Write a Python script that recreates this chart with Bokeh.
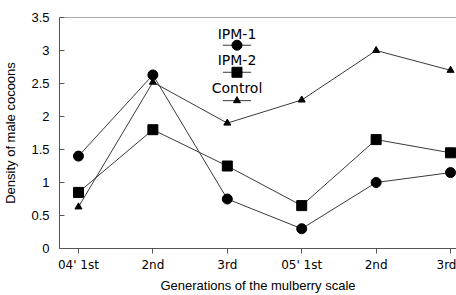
from bokeh.plotting import figure
from bokeh.models import FixedTicker, NumeralTickFormatter, Span
from bokeh.core.properties import value
from bokeh.embed import file_html
from bokeh.resources import INLINE

generations = ["04' 1st", "2nd", "3rd", "05' 1st", "2nd", "3rd"]
ipm1 = [1.4, 2.63, 0.75, 0.3, 1.0, 1.15]
ipm2 = [0.85, 1.8, 1.25, 0.65, 1.65, 1.45]
control = [0.63, 2.52, 1.9, 2.25, 3.0, 2.7]
y_ticks = [0, 0.5, 1, 1.5, 2, 2.5, 3, 3.5]

xs = list(range(len(generations)))

p = figure(width=456, height=295, output_backend="svg", toolbar_location=None,
           x_range=(-0.255, 5.08), y_range=(0, 3.5),
           min_border_left=58, min_border_right=0, min_border_top=17, min_border_bottom=47)
p.background_fill_color = "white"
p.border_fill_color = "white"
p.outline_line_color = None
p.xgrid.visible = False
p.ygrid.visible = False

line_col = "#3a3a3a"
p.line(xs, ipm1, line_color=line_col, line_width=1)
p.line(xs, ipm2, line_color=line_col, line_width=1)
p.line(xs, control, line_color=line_col, line_width=1)
p.scatter(xs, ipm1, marker="circle", size=10, color="black")
p.scatter(xs, ipm2, marker="square", size=10, color="black")
p.scatter(xs, control, marker="triangle", size=7, color="black")

# top border line
p.add_layout(Span(location=3.5, dimension="width", line_color="#555555", line_width=1))

# legend (text above a short line with marker)
lx = 2.13
names = ["IPM-1", "IPM-2", "Control"]
markers = ["circle", "square", "triangle"]
msizes = [10, 10, 7]
text_y = [3.25, 2.86, 2.43]
mark_y = [3.08, 2.67, 2.24]
half = 0.19
for n, m, s, ty, my in zip(names, markers, msizes, text_y, mark_y):
    p.text([lx], [ty], text=[n], text_align="center", text_baseline="middle",
           text_font=value("DejaVu Sans"), text_font_size="14px", text_color="black")
    p.line([lx - half, lx + half], [my, my], line_color=line_col, line_width=1)
    p.scatter([lx], [my], marker=m, size=s, color="black")

# axes
p.xaxis.ticker = FixedTicker(ticks=xs)
p.xaxis.major_label_overrides = {i: g for i, g in enumerate(generations)}
p.xaxis.major_tick_in = 0
p.xaxis.major_tick_out = 5
p.xaxis.minor_tick_line_color = None
p.xaxis.major_label_standoff = 4
p.xaxis.axis_label = "Generations of the mulberry scale"
p.xaxis.axis_label_standoff = 3
p.xaxis.major_label_text_font = "DejaVu Sans"
p.xaxis.major_label_text_font_size = "12px"

p.yaxis.ticker = FixedTicker(ticks=y_ticks)
p.yaxis.formatter = NumeralTickFormatter(format="0.[0]")
p.yaxis.major_tick_in = 5
p.yaxis.major_tick_out = 0
p.yaxis.minor_tick_line_color = None
p.yaxis.major_label_standoff = 10
p.yaxis.axis_label = "Density of male cocoons"
p.yaxis.axis_label_standoff = 10
p.yaxis.major_label_text_font = "Liberation Sans"
p.yaxis.major_label_text_font_size = "13px"

for ax in (p.xaxis, p.yaxis):
    ax.axis_line_color = "#555555"
    ax.major_tick_line_color = "#555555"
    ax.major_label_text_color = "black"
    ax.axis_label_text_font = "Liberation Sans"
    ax.axis_label_text_font_size = "13px"
    ax.axis_label_text_font_style = "normal"
    ax.axis_label_text_color = "black"

open("out.html", "w").write(file_html(p, INLINE))
